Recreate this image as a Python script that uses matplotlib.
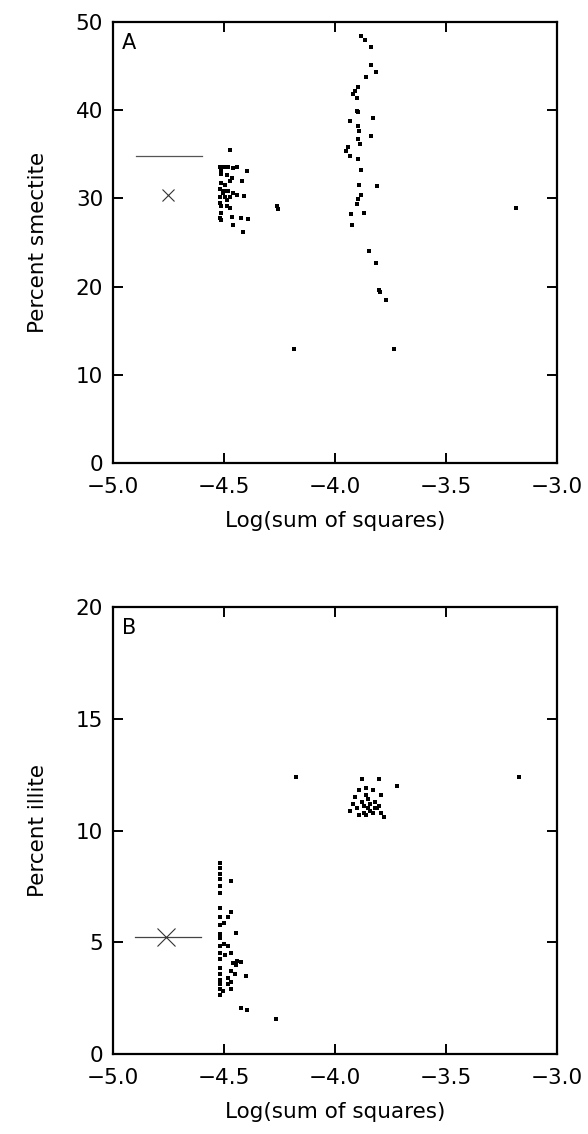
import numpy as np
import matplotlib
matplotlib.use("Agg")
import matplotlib.pyplot as plt

# Panel A: percent smectite vs log(sum of squares)
a_x = [-3.882, -3.864, -3.838, -3.838, -3.815, -3.861, -3.897, -3.909, -3.920, -3.902,
       -3.902, -3.894, -3.826, -3.932, -3.898, -3.891, -3.836, -3.894, -3.886, -3.942,
       -3.952, -3.932, -3.894, -3.883, -3.891, -3.811, -3.882, -3.898, -3.902, -3.929,
       -3.868, -3.924, -3.847, -3.815, -3.803, -3.798, -3.770, -4.182, -3.735, -3.182,
       -4.473, -4.518, -4.514, -4.500, -4.480, -4.458, -4.440, -4.395, -4.511, -4.488,
       -4.465, -4.473, -4.515, -4.495, -4.417, -4.518, -4.500, -4.480, -4.458, -4.440,
       -4.410, -4.518, -4.495, -4.473, -4.518, -4.511, -4.488, -4.473, -4.515, -4.518,
       -4.511, -4.465, -4.425, -4.390, -4.458, -4.416, -4.488, -4.506, -4.262, -4.255]
a_y = [48.4, 47.9, 47.2, 45.1, 44.3, 43.7, 42.6, 42.2, 41.8, 41.4,
       39.9, 39.8, 39.1, 38.8, 38.2, 37.6, 37.1, 36.7, 36.2, 35.8,
       35.4, 34.8, 34.5, 33.2, 31.5, 31.4, 30.4, 29.9, 29.4, 28.2,
       28.3, 27.0, 24.0, 22.7, 19.6, 19.4, 18.5, 12.9, 12.9, 28.9,
       35.5, 33.6, 33.2, 33.6, 33.6, 33.4, 33.6, 33.1, 32.8, 32.6,
       32.3, 32.0, 31.7, 31.5, 32.0, 31.1, 30.8, 30.8, 30.6, 30.4,
       30.3, 30.2, 30.1, 30.2, 29.5, 29.1, 29.1, 28.9, 28.3, 27.8,
       27.6, 27.9, 27.8, 27.7, 27.0, 26.2, 29.8, 30.6, 29.1, 28.8]
a_mark_x, a_mark_y = -4.75, 30.4
a_range_x, a_range_y = [-4.895, -4.598], 34.8

# Panel B: percent illite vs log(sum of squares)
b_x = [-4.517] * 20 + [
       -4.470, -4.467, -4.482, -4.500, -4.444, -4.500, -4.482, -4.470, -4.497, -4.459,
       -4.440, -4.422, -4.444, -4.467, -4.452, -4.399, -4.482, -4.467, -4.482, -4.467,
       -4.502, -4.422, -4.395, -4.267, -4.174,
       -3.92, -3.91, -3.90, -3.89, -3.88, -3.88, -3.87, -3.87, -3.86, -3.86,
       -3.85, -3.85, -3.84, -3.84, -3.83, -3.83, -3.82, -3.81, -3.80, -3.80,
       -3.79, -3.79, -3.78, -3.72, -3.93, -3.89, -3.86, -3.82, -3.17]
b_y = [8.54, 8.33, 8.08, 7.82, 7.52, 7.23, 6.55, 6.12, 5.78, 5.36,
       5.19, 4.85, 4.51, 4.25, 3.83, 3.57, 3.32, 3.15, 2.89, 2.64,
       7.74, 6.38, 6.12, 5.87, 5.44, 4.93, 4.85, 4.51, 4.42, 4.08,
       4.17, 4.12, 4.00, 3.74, 3.57, 3.49, 3.40, 3.23, 3.15, 2.89,
       2.81, 2.04, 1.96, 1.56, 12.38,
       11.2, 11.5, 11.0, 11.8, 12.3, 11.3, 10.8, 11.1, 10.7, 11.6,
       11.0, 11.4, 10.9, 11.2, 11.8, 10.8, 11.3, 11.0, 11.1, 12.3,
       11.6, 10.8, 10.6, 12.0, 10.9, 10.7, 11.9, 11.0, 12.4]
b_mark_x, b_mark_y = -4.76, 5.24
b_range_x, b_range_y = [-4.899, -4.602], 5.24

x_ticks = [-5.0, -4.5, -4.0, -3.5, -3.0]
x_labels = ["\u22125.0", "\u22124.5", "\u22124.0", "\u22123.5", "\u22123.0"]

plt.rcParams['font.family'] = ['DejaVu Sans']
fig = plt.figure(figsize=(5.88, 11.34), dpi=100)
ax_a = fig.add_axes([0.192, 0.5917, 0.755, 0.389])
ax_b = fig.add_axes([0.192, 0.0705, 0.755, 0.394])


def style_axes(ax, ylim, yticks, ylabel, letter):
    ax.set_xlim(-5.0, -3.0)
    ax.set_ylim(*ylim)
    ax.set_xticks(x_ticks)
    ax.set_xticklabels(x_labels)
    ax.set_yticks(yticks)
    ax.tick_params(direction='in', length=7, width=1.4, top=True, right=True,
                   labelsize=15.5)
    ax.tick_params(axis='x', pad=10)
    ax.tick_params(axis='y', pad=7)
    for s in ax.spines.values():
        s.set_linewidth(1.6)
    ax.set_xlabel("Log(sum of squares)", fontsize=15.5, labelpad=10)
    ax.set_ylabel(ylabel, fontsize=15.5, labelpad=20)
    ax.text(0.02, 0.975, letter, transform=ax.transAxes, fontsize=15,
            ha='left', va='top')


ax_a.plot(a_x, a_y, 's', color='black', markersize=3.3, markeredgewidth=0)
ax_a.plot(a_range_x, [a_range_y, a_range_y], color='#555555', linewidth=0.9)
ax_a.plot(a_mark_x, a_mark_y, 'x', color='#333333', markersize=9, markeredgewidth=0.8)
style_axes(ax_a, (0, 50), [0, 10, 20, 30, 40, 50], "Percent smectite", "A")

ax_b.plot(b_x, b_y, 's', color='black', markersize=3.3, markeredgewidth=0)
ax_b.plot(b_range_x, [b_range_y, b_range_y], color='#444444', linewidth=0.9)
ax_b.plot(b_mark_x, b_mark_y, 'x', color='#333333', markersize=13, markeredgewidth=0.8)
style_axes(ax_b, (0, 20), [0, 5, 10, 15, 20], "Percent illite", "B")

fig.savefig("out.png", dpi=100)
